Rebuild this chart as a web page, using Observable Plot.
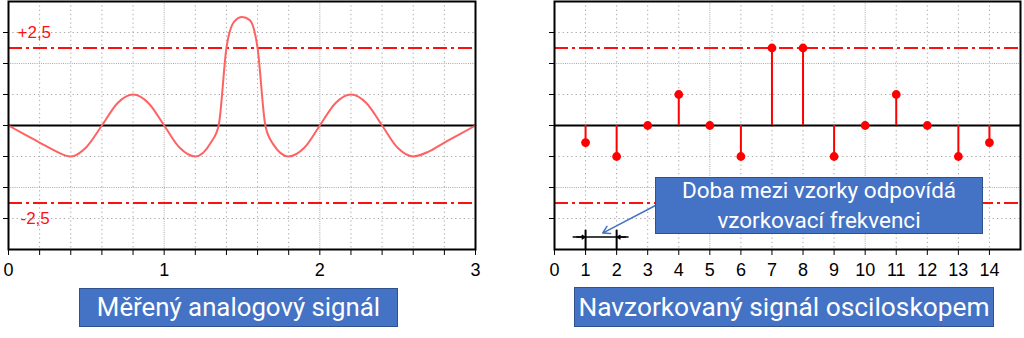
<!DOCTYPE html>
<html><head><meta charset="utf-8">
<script src="https://cdn.jsdelivr.net/npm/d3@7"></script>
<script src="https://cdn.jsdelivr.net/npm/@observablehq/plot@0.6"></script>
<style>
body{margin:0;background:#fff;}
#wrap{position:relative;width:1024px;height:338px;overflow:hidden;background:#fff;}
#wrap svg{position:absolute;top:0;overflow:visible;}
.box{position:absolute;background:#4472C4;border:1px solid #2F528F;color:#fff;box-sizing:border-box;
  display:flex;flex-direction:column;align-items:center;justify-content:center;font-family:Roboto,"Noto Sans",sans-serif;white-space:nowrap;}
</style></head>
<body><div id="wrap"></div>
<script>
// ---- data ----
const analogT = [0,0.1,0.2,0.3,0.4,0.5,0.6,0.7,0.8,0.9,1.0,1.1,1.2,1.3,1.35,1.4,1.45,1.5,1.55,1.6,1.65,1.7,1.8,1.9,2.0,2.1,2.2,2.3,2.4,2.5,2.6,2.7,2.8,2.9,3.0];
const analogV = [0,-0.28,-0.55,-0.82,-1.0,-0.7,0,0.72,1.0,0.72,0,-0.72,-1.0,-0.55,0,2.5,3.35,3.5,3.4,2.5,0,-0.6,-1.0,-0.72,0,0.72,1.0,0.72,0,-0.72,-1.0,-0.84,-0.55,-0.28,0];
const sampleN = [1,2,3,4,5,6,7,8,9,10,11,12,13,14];
const sampleV = [-0.55,-1,0,1,0,-1,2.5,2.5,-1,0,1,0,-1,-0.55];
const thresholds = [2.5,-2.5];
const thresholdLabels = ["+2,5","-2,5"];
const leftXTicks = [0,0.2,0.4,0.6,0.8,1,1.2,1.4,1.6,1.8,2,2.2,2.4,2.6,2.8,3];
const leftXLabels = [0,1,2,3];
const leftXMajorGrid = [1,2];
const rightXTicks = [0,1,2,3,4,5,6,7,8,9,10,11,12,13,14];
const rightXMajorGrid = [5,10];
const yTicks = [-3,-2,-1,0,1,2,3];
const yMajorGrid = [-2,2];
const panelTitles = ["Měřený analogový signál","Navzorkovaný signál osciloskopem"];
const calloutLines = ["Doba mezi vzorky odpovídá","vzorkovací frekvenci"];
const sampleInterval = [1,2];

const analog = analogT.map((t,i)=>({t, v: analogV[i]}));
const samples = sampleN.map((n,i)=>({n, v: sampleV[i]}));
const thr = thresholds.map((v,i)=>({v, label: thresholdLabels[i]}));

const gridColor = "#a8a8a8";
const tickFont = {fontFamily:"'Liberation Sans Narrow','Liberation Sans',Arial,sans-serif", fontSize:18};
const common = {height:285, marginTop:1, marginBottom:36, y:{domain:[-4,4], label:null}, style:{background:"transparent", color:"#000", overflow:"visible"}};

function gridMarks(xMinor, xMajor){
  return [
    Plot.gridX(xMinor, {stroke:gridColor, strokeOpacity:1, strokeDasharray:"1.3,3"}),
    Plot.gridX(xMajor, {stroke:gridColor, strokeOpacity:1, strokeDasharray:"1,1.2"}),
    Plot.gridY(yTicks.filter(d=>!yMajorGrid.includes(d) && d!==0), {stroke:gridColor, strokeOpacity:1, strokeDasharray:"1.3,3"}),
    Plot.gridY(yMajorGrid, {stroke:gridColor, strokeOpacity:1, strokeDasharray:"1,1.2"}),
    Plot.ruleY(thresholds, {stroke:"#ff1010", strokeWidth:2, strokeDasharray:"14,4,3,4"}),
    Plot.ruleY([0], {stroke:"#000", strokeWidth:2})
  ];
}

const left = Plot.plot({
  ...common, width:480, marginLeft:8, marginRight:5,
  x:{domain:[0,3], label:null},
  marks:[
    ...gridMarks(leftXTicks.filter(d=>d>0 && d<3 && !leftXMajorGrid.includes(d)), leftXMajorGrid),
    Plot.line(analog, {x:"t", y:"v", stroke:"#ff6262", strokeWidth:2, curve:"monotone-x"}),
    Plot.text(thr, {frameAnchor:"left", y:"v", text:"label", fill:"#ff1010", textAnchor:"start",
      fontSize:17, fontFamily:"'Liberation Sans',Arial,sans-serif"}),
    Plot.frame({stroke:"#000", strokeWidth:2}),
    Plot.axisX(leftXTicks, {label:null, tickSize:6, tickPadding:8, ...tickFont, tickFormat:d=>leftXLabels.includes(d)?String(d):""}),
    Plot.axisY(yTicks, {label:null, tickSize:5, tickFormat:()=>""})
  ]
});

const right = Plot.plot({
  ...common, width:484, marginLeft:14, marginRight:4,
  x:{domain:[0,15], label:null},
  marks:[
    ...gridMarks(rightXTicks.filter(d=>d>0 && !rightXMajorGrid.includes(d)), rightXMajorGrid),
    Plot.ruleX(samples, {x:"n", y1:0, y2:"v", stroke:"#ff0000", strokeWidth:2}),
    Plot.dot(samples, {x:"n", y:"v", r:4.4, fill:"#ff0000"}),
    // sampling interval marker
    Plot.ruleX(sampleInterval, {y1:-3.38, y2:-4, stroke:"#000", strokeWidth:2}),
    Plot.ruleY([-3.6], {x1:sampleInterval[0]-0.4, x2:sampleInterval[1]+0.4, stroke:"#000", strokeWidth:1.5}),
    Plot.arrow(sampleInterval, {x1:(d,i)=>i===0?d-0.28:d+0.28, x2:d=>d, y1:-3.6, y2:-3.6, stroke:"#000", strokeWidth:1.5, headLength:6, headAngle:70, insetEnd:1}),
    Plot.arrow([0], {x1:3.25, y1:-2.58, x2:1.55, y2:-3.47, stroke:"#4472C4", strokeWidth:1.5, headLength:8}),
    Plot.frame({stroke:"#000", strokeWidth:2}),
    Plot.axisX(rightXTicks, {label:null, tickSize:6, tickPadding:8, ...tickFont}),
    Plot.axisY(yTicks, {label:null, tickSize:5, tickFormat:()=>""})
  ]
});

const wrap = document.getElementById("wrap");
left.style.left = "0px";
right.style.left = "540px";
wrap.appendChild(left);
wrap.appendChild(right);

// threshold label offsets
left.querySelectorAll("text").forEach(t=>{
  if (t.textContent === "+2,5") { t.setAttribute("dy","-20"); t.setAttribute("dx","9"); t.setAttribute("dominant-baseline","middle"); }
  if (t.textContent === "-2,5") { t.setAttribute("dy","11"); t.setAttribute("dx","12"); t.setAttribute("dominant-baseline","middle"); }
});

function box(lines, l, t, w, h, fs){
  const d = document.createElement("div");
  d.className = "box";
  Object.assign(d.style, {left:l+"px", top:t+"px", width:w+"px", height:h+"px", fontSize:fs+"px", lineHeight:"1.3"});
  lines.forEach(s=>{const e=document.createElement("div"); e.textContent=s; d.appendChild(e);});
  wrap.appendChild(d);
}
box(calloutLines, 655, 177, 328, 57, 22.5);
box([panelTitles[0]], 79, 288, 319, 39, 25.8);
box([panelTitles[1]], 574, 287, 420, 40, 26.3);
</script>
</body></html>
